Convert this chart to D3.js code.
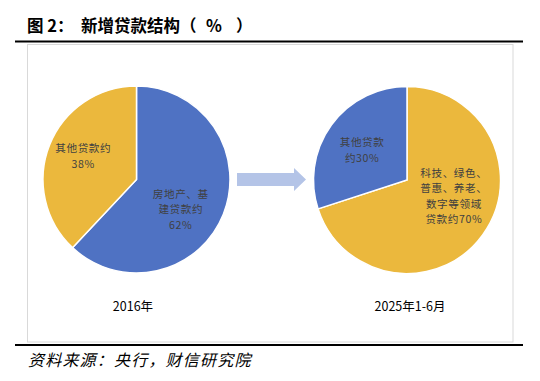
<!DOCTYPE html>
<html>
<head>
<meta charset="utf-8">
<script src="https://cdn.jsdelivr.net/npm/d3@7"></script>
<style>
	body { margin: 0; background: #fff; }
	svg { display: block; }
</style>
</head>
<body>
<svg id="graph"></svg>
<script>
// data
const periods = ["2016年", "2025年1-6月"];
const leftCategories = ["房地产、基建贷款", "其他贷款"];
const leftValues = [62, 38];
const leftLabels = [["房地产、基", "建贷款约", "62%"], ["其他贷款约", "38%"]];
const rightCategories = ["科技、绿色、普惠、养老、数字等领域贷款", "其他贷款"];
const rightValues = [70, 30];
const rightLabels = [["科技、绿色、", "普惠、养老、", "数字等领域", "贷款约70%"], ["其他贷款", "约30%"]];

const blue = "#4F72C3";
const yellow = "#EBB83D";

document.addEventListener("DOMContentLoaded", function () {
	createGraph();
});

function createGraph() {
	const w = 540;
	const h = 381;
	const svg = d3.select("#graph").attr("width", w).attr("height", h);
	const font = "'Noto Sans CJK SC', 'Noto Sans', sans-serif";

	// title, pieces placed like the original spacing
	const title = svg.append("text")
		.attr("y", 31.5)
		.style("font-family", font)
		.style("font-weight", "700")
		.style("font-size", "16.5px")
		.attr("fill", "#000");
	title.append("tspan").attr("x", 27).text("图 2：");
	title.append("tspan").attr("x", 81).text("新增贷款结构");
	title.append("tspan").attr("x", 180).text("（");
	title.append("tspan").attr("x", 206).text("%");
	title.append("tspan").attr("x", 236).text("）");

	// black rules and light chart frame
	svg.append("line").attr("x1", 15).attr("x2", 523).attr("y1", 41.5).attr("y2", 41.5)
		.attr("stroke", "#000").attr("stroke-width", 2);
	svg.append("rect").attr("x", 27.5).attr("y", 44.5).attr("width", 485.5).attr("height", 297.5)
		.attr("fill", "none").attr("stroke", "#D9D9D9").attr("stroke-width", 1);
	svg.append("line").attr("x1", 15).attr("x2", 523).attr("y1", 345).attr("y2", 345)
		.attr("stroke", "#000").attr("stroke-width", 2);

	// source note
	svg.append("text")
		.attr("x", 28)
		.attr("y", 366)
		.style("font-family", font)
		.style("font-style", "italic")
		.style("font-size", "16px")
		.style("letter-spacing", "1.2px")
		.attr("fill", "#000")
		.text("资料来源：央行，财信研究院");

	const radius = 93.5;
	const pie = d3.pie().sort(null).value((d) => d.value);
	const arc = d3.arc().innerRadius(0).outerRadius(radius);

	// one pie per period, label nudges are layout only
	const charts = [
		{
			cx: 136.5, cy: 179.5, period: periods[0],
			rows: leftCategories.map((c, i) => ({ name: c, value: leftValues[i], lines: leftLabels[i] })),
			colors: [blue, yellow],
			nudge: [[-5, 10], [-4, -4]],
			labelX: 133,
		},
		{
			cx: 407, cy: 180, period: periods[1],
			rows: rightCategories.map((c, i) => ({ name: c, value: rightValues[i], lines: rightLabels[i] })),
			colors: [yellow, blue],
			nudge: [[4, -15], [-2, 1]],
			labelX: 410,
		},
	];

	charts.forEach((chart) => {
		const g = svg.append("g").attr("transform", "translate(" + chart.cx + "," + chart.cy + ")");
		const slices = pie(chart.rows);

		g.selectAll("path")
			.data(slices)
			.enter()
			.append("path")
			.attr("d", arc)
			.attr("fill", (d, i) => chart.colors[i])
			.attr("stroke", "#fff")
			.attr("stroke-width", 1.5);

		const labelArc = d3.arc().innerRadius(53).outerRadius(53);
		const lineH = 15.5;
		slices.forEach((d, i) => {
			const c = labelArc.centroid(d);
			const x = c[0] + chart.nudge[i][0];
			const y = c[1] + chart.nudge[i][1];
			const lines = d.data.lines;
			const t = g.append("text")
				.attr("text-anchor", "middle")
				.style("font-family", font)
				.style("font-size", "10.6px")
				.style("letter-spacing", "0.6px")
				.attr("fill", "#404040");
			lines.forEach((ln, j) => {
				t.append("tspan")
					.attr("x", x)
					.attr("y", y + (j - (lines.length - 1) / 2) * lineH + 4)
					.text(ln);
			});
		});

		// period label under the pie
		svg.append("text")
			.attr("x", chart.labelX)
			.attr("y", 311)
			.attr("text-anchor", "middle")
			.style("font-family", font)
			.style("font-size", "12.5px")
			.attr("fill", "#000")
			.text(chart.period);
	});

	// arrow between the two pies
	const ax0 = 237, ax1 = 306, ay = 179.5;
	svg.append("polygon")
		.attr("points", [
			[ax0, ay - 6.5], [294, ay - 6.5], [294, ay - 11.5], [ax1, ay],
			[294, ay + 11.5], [294, ay + 6.5], [ax0, ay + 6.5],
		].map((p) => p.join(",")).join(" "))
		.attr("fill", "#B4C4E7");
}
</script>
</body>
</html>
